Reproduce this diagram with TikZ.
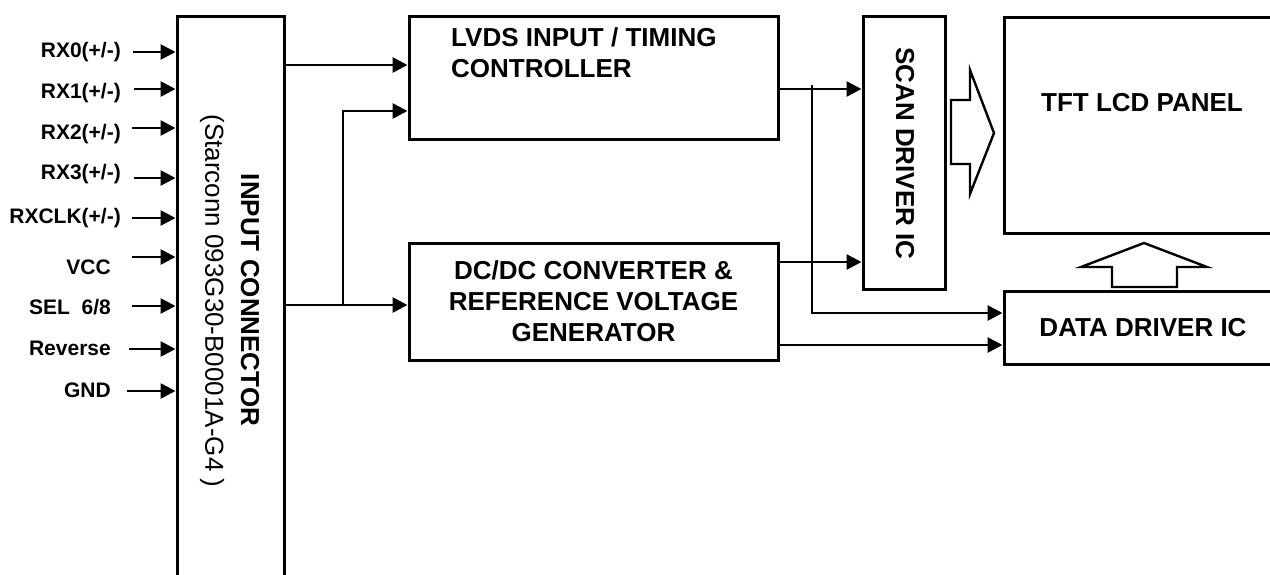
\documentclass[tikz,border=0pt]{standalone}
\usepackage{fontspec}
\setmainfont{Liberation Sans}
\usetikzlibrary{arrows.meta}

\newcommand{\blocktext}{\fontsize{26}{31}\selectfont\bfseries}
\newcommand{\pintext}{\fontsize{21}{25}\selectfont\bfseries}
\newcommand{\pmsign}{(+/-)}
\newcommand{\selpin}{SEL~~6/8}

\tikzset{
  block/.style={draw, line width=3pt, inner sep=0pt, align=center, font=\blocktext},
  pin/.style={anchor=east, inner sep=0pt, font=\pintext},
  sig/.style={line width=2.7pt, -{Triangle[length=15pt,width=15pt]}},
  fatarrow/.style={line width=2.4pt, line join=miter}
}

\begin{document}
\begin{tikzpicture}[x=1pt, y=-1pt]
  \useasboundingbox (0,0) rectangle (1270,574);

  % blocks
  \node[block, minimum width=107pt, minimum height=594pt] (conn) at (230.5,313) {};
  \node[rotate=-90, font=\blocktext] (connname) at (250,300) {INPUT CONNECTOR};
  \node[rotate=-90, font=\fontsize{26}{31}\selectfont] (conntype) at (212,301) {(Starconn 093G30-B0001A-G4 )};

  \node[block, minimum width=369pt, minimum height=123pt] (lvds) at (593.5,77.5) {};
  \node[anchor=north west, inner sep=0pt, align=left, font=\blocktext] (lvdsname) at (451,27) {LVDS INPUT / TIMING\\CONTROLLER};

  \node[block, minimum width=369pt, minimum height=117pt] (dcdc) at (593.5,301.5)
    {DC/DC CONVERTER \&\\REFERENCE VOLTAGE\\GENERATOR};

  \node[block, minimum width=82pt, minimum height=273pt] (scan) at (904,152.5) {};
  \node[rotate=-90, font=\blocktext] (scanname) at (905,153.5) {SCAN DRIVER IC};

  \node[block, minimum width=278pt, minimum height=216pt] (tft) at (1143,125) {};
  \node[font=\blocktext] (tftname) at (1142,103) {TFT LCD PANEL};

  \node[block, minimum width=278pt, minimum height=73pt] (data) at (1143,327.5) {DATA DRIVER IC};

  % input pins
  \foreach \nm/\txt/\ty/\ay/\lx/\ax in {
      rxa/RX0\pmsign/52/52/121/133,
      rxb/RX1\pmsign/93/89/121/134,
      rxc/RX2\pmsign/134/128/121/132,
      rxd/RX3\pmsign/174/178/121/134,
      rxclk/RXCLK\pmsign/218/218/121/132,
      vcc/VCC/267/257/111/132,
      sel/\selpin/307/306/111/132,
      rev/Reverse/348/349/111/129,
      gnd/GND/390/391/111/127}
  {
    \node[pin] (\nm) at (\lx,\ty) {\txt};
    \coordinate (\nm src) at (\ax,\ay);
    \draw[sig] (\nm src) -- (\nm src -| conn.west);
  }

  % connector outputs
  \coordinate (ya) at (0,65);
  \coordinate (yb) at (0,305);
  \coordinate (yc) at (0,111);
  \coordinate (tapa) at (343,305);
  \draw[sig] (conn.east |- ya) -- (lvds.west |- ya);
  \draw[sig] (conn.east |- yb) -- (dcdc.west |- yb);
  \draw[sig] (tapa) -- (tapa |- yc) -- (lvds.west |- yc);

  % to the driver ICs
  \coordinate (yd) at (0,89);
  \coordinate (ye) at (0,262);
  \coordinate (yf) at (0,345);
  \coordinate (tapb) at (812,85);
  \coordinate (tapc) at (812,313);
  \draw[sig] (lvds.east |- yd) -- (scan.west |- yd);
  \draw[sig] (dcdc.east |- ye) -- (scan.west |- ye);
  \draw[sig] (tapb) -- (tapc) -- (tapc -| data.west);
  \draw[sig] (dcdc.east |- yf) -- (data.west |- yf);

  % hollow arrows into the panel
  \draw[fatarrow] (951,100) -- (970,100) -- (970,70) -- (994,133) -- (970,194) -- (970,164) -- (951,164) -- cycle;
  \draw[fatarrow] (1112,287) -- (1112,267) -- (1081,267) -- (1144,243) -- (1207,267) -- (1177,267) -- (1177,287) -- cycle;
\end{tikzpicture}
\end{document}
